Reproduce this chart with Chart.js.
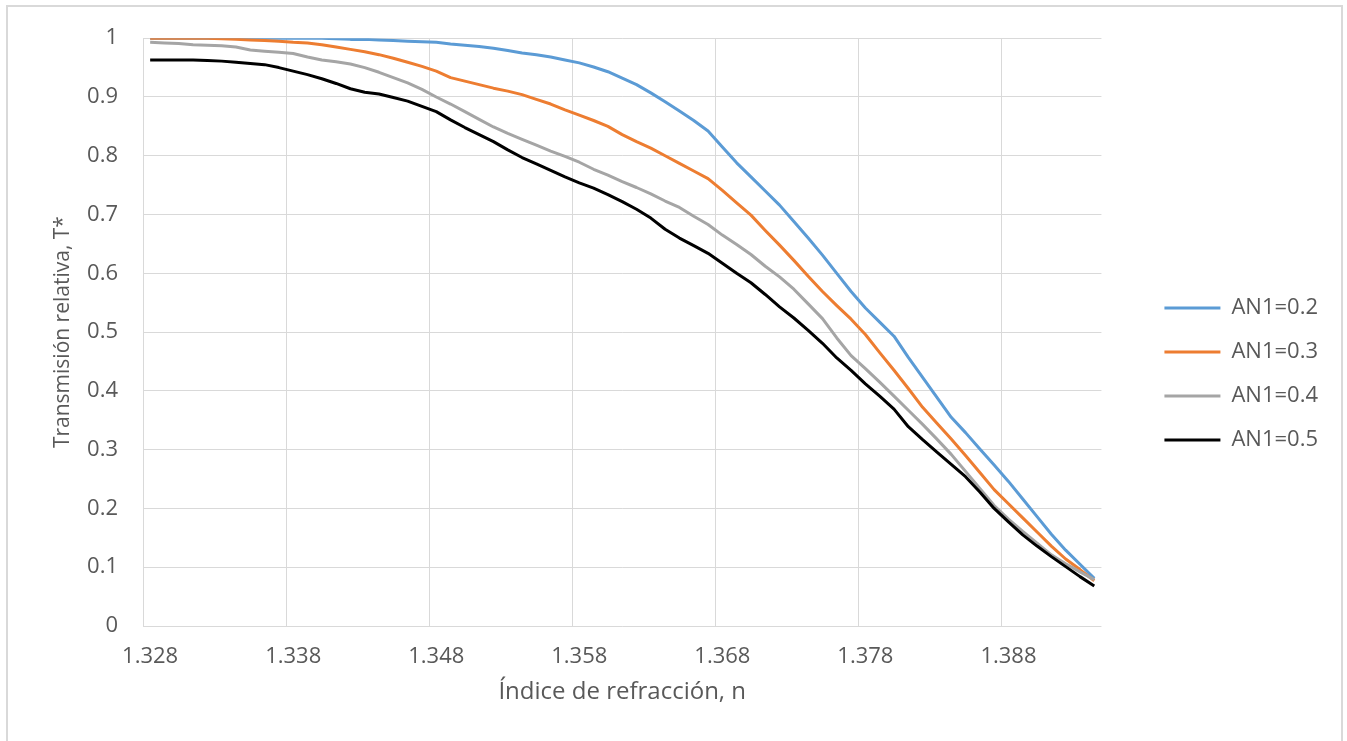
<!DOCTYPE html>
<html>
<head>
<meta charset="utf-8">
<script src="https://cdn.jsdelivr.net/npm/chart.js@4.4.1/dist/chart.umd.min.js"></script>
<style>
  body { margin: 0; background: #fff; }
  #wrap { position: relative; width: 1347px; height: 741px; }
  #frame { position: absolute; left: 6px; top: 5px; width: 1337px; height: 745px; border: 2px solid #d9d9d9; box-sizing: border-box; pointer-events: none; }
</style>
</head>
<body>
<div id="wrap">
  <canvas id="myChart"></canvas>
  <div id="frame"></div>
</div>
<script>
// refractive index n (one category per 0.001)
const indexLabels = [
  "1.328", "1.329", "1.330", "1.331", "1.332", "1.333", "1.334", "1.335", "1.336", "1.337",
  "1.338", "1.339", "1.340", "1.341", "1.342", "1.343", "1.344", "1.345", "1.346", "1.347",
  "1.348", "1.349", "1.350", "1.351", "1.352", "1.353", "1.354", "1.355", "1.356", "1.357",
  "1.358", "1.359", "1.360", "1.361", "1.362", "1.363", "1.364", "1.365", "1.366", "1.367",
  "1.368", "1.369", "1.370", "1.371", "1.372", "1.373", "1.374", "1.375", "1.376", "1.377",
  "1.378", "1.379", "1.380", "1.381", "1.382", "1.383", "1.384", "1.385", "1.386", "1.387",
  "1.388", "1.389", "1.390", "1.391", "1.392", "1.393", "1.394"
];

const an02 = [
  1.000, 1.000, 1.000, 1.000, 1.000, 1.000, 1.000, 1.000, 1.000, 1.000,
  1.000, 1.000, 1.000, 0.999, 0.998, 0.998, 0.997, 0.996, 0.995, 0.994,
  0.993, 0.990, 0.988, 0.986, 0.983, 0.979, 0.975, 0.972, 0.968, 0.963,
  0.958, 0.951, 0.943, 0.932, 0.921, 0.907, 0.892, 0.876, 0.860, 0.842,
  0.815, 0.788, 0.764, 0.740, 0.716, 0.688, 0.660, 0.631, 0.600, 0.569,
  0.541, 0.517, 0.493, 0.457, 0.423, 0.389, 0.355, 0.329, 0.301, 0.274,
  0.246, 0.216, 0.186, 0.156, 0.129, 0.105, 0.081
];

const an03 = [
  1.000, 1.000, 1.000, 1.000, 1.000, 0.999, 0.998, 0.997, 0.996, 0.995,
  0.993, 0.992, 0.989, 0.985, 0.981, 0.977, 0.972, 0.966, 0.959, 0.952,
  0.944, 0.933, 0.927, 0.921, 0.915, 0.910, 0.904, 0.896, 0.888, 0.878,
  0.869, 0.860, 0.850, 0.836, 0.824, 0.813, 0.800, 0.787, 0.774, 0.761,
  0.741, 0.720, 0.699, 0.673, 0.648, 0.622, 0.595, 0.569, 0.545, 0.522,
  0.496, 0.465, 0.435, 0.404, 0.372, 0.345, 0.318, 0.290, 0.261, 0.232,
  0.208, 0.184, 0.160, 0.136, 0.114, 0.096, 0.077
];

const an04 = [
  0.993, 0.992, 0.991, 0.989, 0.988, 0.987, 0.985, 0.980, 0.978, 0.976,
  0.974, 0.968, 0.963, 0.960, 0.956, 0.950, 0.942, 0.933, 0.924, 0.913,
  0.900, 0.888, 0.875, 0.862, 0.849, 0.838, 0.828, 0.818, 0.808, 0.799,
  0.789, 0.777, 0.767, 0.756, 0.746, 0.735, 0.723, 0.712, 0.697, 0.683,
  0.665, 0.649, 0.632, 0.612, 0.594, 0.573, 0.548, 0.523, 0.490, 0.460,
  0.438, 0.415, 0.391, 0.367, 0.343, 0.318, 0.292, 0.263, 0.234, 0.205,
  0.182, 0.161, 0.141, 0.121, 0.106, 0.092, 0.079
];

const an05 = [
  0.963, 0.963, 0.963, 0.963, 0.962, 0.961, 0.959, 0.957, 0.955, 0.950,
  0.944, 0.938, 0.931, 0.923, 0.914, 0.908, 0.905, 0.899, 0.893, 0.884,
  0.875, 0.861, 0.848, 0.836, 0.824, 0.810, 0.797, 0.786, 0.775, 0.764,
  0.754, 0.745, 0.734, 0.722, 0.709, 0.694, 0.675, 0.660, 0.647, 0.634,
  0.617, 0.600, 0.584, 0.564, 0.543, 0.524, 0.503, 0.481, 0.456, 0.435,
  0.412, 0.391, 0.369, 0.339, 0.317, 0.296, 0.275, 0.254, 0.228, 0.200,
  0.177, 0.155, 0.136, 0.118, 0.101, 0.084, 0.068
];

const seriesNames = ["AN1=0.2", "AN1=0.3", "AN1=0.4", "AN1=0.5"];
const seriesColors = ["#5b9bd5", "#ed7d31", "#a5a5a5", "#000000"];
const yTicks = [0, 0.1, 0.2, 0.3, 0.4, 0.5, 0.6, 0.7, 0.8, 0.9, 1];

const textColor = "#595959";
const gridColor = "#d9d9d9";
const fontFam = "'Open Sans', 'Noto Sans', sans-serif";

function makeSet(i, values) {
  return {
    label: seriesNames[i],
    data: values,
    borderColor: seriesColors[i],
    backgroundColor: seriesColors[i],
    borderWidth: 3,
    pointRadius: 0,
    tension: 0,
    borderJoinStyle: "round",
    order: 4 - i // later series drawn on top, like excel
  };
}

new Chart("myChart", {
  type: "line",
  data: {
    labels: indexLabels,
    datasets: [makeSet(0, an02), makeSet(1, an03), makeSet(2, an04), makeSet(3, an05)]
  },
  options: {
    responsive: true,
    maintainAspectRatio: false,
    animation: false,
    layout: { padding: { top: 33, left: 0, right: 19, bottom: 26 } },
    plugins: {
      tooltip: { enabled: false },
      legend: {
        position: "right",
        labels: {
          usePointStyle: true,
          pointStyle: "line",
          pointStyleWidth: 56,
          padding: 22,
          color: textColor,
          font: { family: fontFam, size: 22 },
          sort: (a, b) => a.datasetIndex - b.datasetIndex
        }
      }
    },
    scales: {
      x: {
        type: "category",
        offset: true,
        border: { display: false },
        grid: {
          offset: true,
          drawTicks: false,
          color: (ctx) => (ctx.index % 10 === 0 ? gridColor : "rgba(0,0,0,0)")
        },
        ticks: {
          autoSkip: false,
          maxRotation: 0,
          minRotation: 0,
          padding: 18,
          color: textColor,
          font: { family: fontFam, size: 22 },
          callback: (val, i) => (i % 10 === 0 ? indexLabels[i] : "")
        },
        title: {
          display: true,
          text: "Índice de refracción, n",
          color: textColor,
          font: { family: fontFam, size: 24 },
          padding: { top: 4, bottom: 8 }
        },
        afterFit: (s) => { s.height = 89; }
      },
      y: {
        min: 0,
        max: 1,
        border: { display: false },
        grid: { color: gridColor, drawTicks: false },
        afterBuildTicks: (s) => { s.ticks = yTicks.map((v) => ({ value: v })); },
        ticks: {
          padding: 25,
          color: textColor,
          font: { family: fontFam, size: 22 },
          callback: (v) => String(Math.round(v * 10) / 10)
        },
        title: {
          display: true,
          text: "Transmisión relativa, T*",
          color: textColor,
          font: { family: fontFam, size: 21 },
          padding: { top: 50, bottom: 0 }
        },
        afterFit: (s) => { s.width = 143; }
      },
      // empty axis, only keeps the gap between plot and legend
      gap: {
        type: "linear",
        position: "right",
        display: true,
        border: { display: false },
        grid: { display: false },
        ticks: { display: false },
        afterFit: (s) => { s.width = 41; }
      }
    }
  }
});
</script>
</body>
</html>
